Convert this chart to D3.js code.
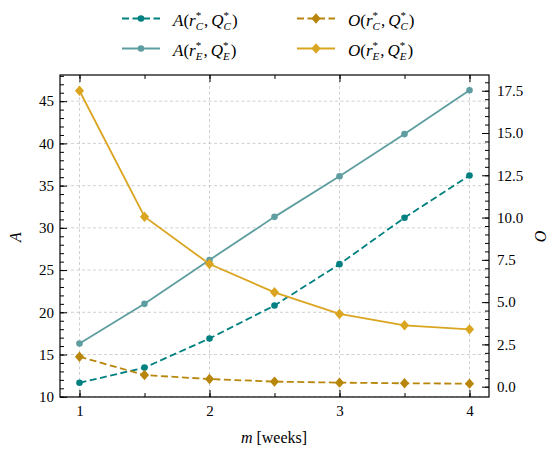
<!DOCTYPE html>
<html><head><meta charset="utf-8">
<script src="https://cdn.jsdelivr.net/npm/d3@7"></script>
<style>
body{margin:0;background:#fff;}
svg text{font-family:"Liberation Serif","Times New Roman",Tinos,"DejaVu Serif","Noto Serif",serif !important;}
</style></head><body>
<svg id="c" width="550" height="450"></svg>
<script>
const weeks = [1, 1.5, 2, 2.5, 3, 3.5, 4];
const A_C = [11.65, 13.45, 16.9, 20.8, 25.7, 31.2, 36.2];
const A_E = [16.3, 21.0, 26.2, 31.3, 36.1, 41.1, 46.3];
const O_C = [1.77, 0.69, 0.45, 0.30, 0.24, 0.20, 0.18];
const O_E = [17.5, 10.05, 7.25, 5.58, 4.3, 3.63, 3.39];
const xTicks = [1, 2, 3, 4];
const yLeftTicks = [10, 15, 20, 25, 30, 35, 40, 45];
const yRightTicks = [0, 2.5, 5, 7.5, 10, 12.5, 15, 17.5];

const FONT = '"Liberation Serif","Times New Roman",Tinos,"DejaVu Serif",serif';
const svg = d3.select("#c").attr("font-family", FONT);
const L = 60, R = 489, T = 75, B = 397;
const x = d3.scaleLinear().domain([0.85, 4.15]).range([L, R]);
const yL = d3.scaleLinear().domain([9.97, 48.1]).range([B, T]);
const yR = d3.scaleLinear().domain([-0.61, 18.43]).range([B, T]);

// grid
const grid = svg.append("g").attr("stroke", "#c4c4c4").attr("stroke-width", 0.8).attr("stroke-dasharray", "3,2.5");
xTicks.forEach(t => grid.append("line").attr("x1", x(t)).attr("x2", x(t)).attr("y1", T).attr("y2", B));
yLeftTicks.forEach(t => grid.append("line").attr("x1", L).attr("x2", R).attr("y1", yL(t)).attr("y2", yL(t)));

function styleAxis(g){
  g.attr("font-family", FONT);
  g.select(".domain").remove();
  g.selectAll("line").attr("stroke", "#000").attr("stroke-width", 1);
  g.selectAll("text").attr("font-size", 15).attr("fill", "#000").attr("font-family", FONT);
}
const xMinor = d3.range(1, 4.01, 0.5);
const lMinor = d3.range(10, 48.01, 1);
const rMinor = d3.range(0, 18.01, 0.5);

// bottom
svg.append("g").attr("transform", `translate(0,${B})`)
  .call(d3.axisBottom(x).tickValues(xTicks).tickSize(-7).tickPadding(8).tickFormat(d3.format("d"))).call(styleAxis);
svg.append("g").attr("transform", `translate(0,${B})`)
  .call(d3.axisBottom(x).tickValues(xMinor).tickSize(-4).tickFormat("")).call(styleAxis);
// top
svg.append("g").attr("transform", `translate(0,${T})`)
  .call(d3.axisTop(x).tickValues(xTicks).tickSize(-7).tickFormat("")).call(styleAxis);
svg.append("g").attr("transform", `translate(0,${T})`)
  .call(d3.axisTop(x).tickValues(xMinor).tickSize(-4).tickFormat("")).call(styleAxis);
// left
svg.append("g").attr("transform", `translate(${L},0)`)
  .call(d3.axisLeft(yL).tickValues(yLeftTicks).tickSize(-7).tickPadding(6).tickFormat(d3.format("d"))).call(styleAxis);
svg.append("g").attr("transform", `translate(${L},0)`)
  .call(d3.axisLeft(yL).tickValues(lMinor).tickSize(-4).tickFormat("")).call(styleAxis);
// right
svg.append("g").attr("transform", `translate(${R},0)`)
  .call(d3.axisRight(yR).tickValues(yRightTicks).tickSize(-7).tickPadding(8).tickFormat(d3.format(".1f"))).call(styleAxis);
svg.append("g").attr("transform", `translate(${R},0)`)
  .call(d3.axisRight(yR).tickValues(rMinor).tickSize(-4).tickFormat("")).call(styleAxis);

// series
const series = [
  {vals: A_C, y: yL, color: "#008080", dash: "7,3.5", marker: "circle"},
  {vals: A_E, y: yL, color: "#5F9EA0", dash: null, marker: "circle"},
  {vals: O_C, y: yR, color: "#B8860B", dash: "7,3.5", marker: "diamond"},
  {vals: O_E, y: yR, color: "#DAA520", dash: null, marker: "diamond"}
];
function drawMarker(g, type, color, cx, cy){
  if(type === "circle") g.append("circle").attr("cx", cx).attr("cy", cy).attr("r", 3.3).attr("fill", color);
  else g.append("path").attr("d", `M${cx},${cy-5.2}L${cx+4.6},${cy}L${cx},${cy+5.2}L${cx-4.6},${cy}Z`).attr("fill", color);
}
series.forEach(s => {
  const line = d3.line().x((d, i) => x(weeks[i])).y(d => s.y(d));
  svg.append("path").datum(s.vals).attr("d", line).attr("fill", "none")
    .attr("stroke", s.color).attr("stroke-width", 1.8).attr("stroke-dasharray", s.dash);
  const g = svg.append("g");
  s.vals.forEach((v, i) => drawMarker(g, s.marker, s.color, x(weeks[i]), s.y(v)));
});

// frame
svg.append("rect").attr("x", L).attr("y", T).attr("width", R - L).attr("height", B - T)
  .attr("fill", "none").attr("stroke", "#000").attr("stroke-width", 1.2);

// axis labels
svg.append("text").attr("transform", "translate(21,237) rotate(-90)").attr("text-anchor", "middle")
  .attr("font-size", 16).attr("font-style", "italic").text("A");
svg.append("text").attr("transform", "translate(535,236) rotate(90)").attr("text-anchor", "middle")
  .attr("font-size", 16).attr("font-style", "italic").text("O");
const xl = svg.append("text").attr("x", 274).attr("y", 443).attr("text-anchor", "middle").attr("font-size", 16);
xl.append("tspan").attr("font-style", "italic").text("m");
xl.append("tspan").text(" [weeks]");

// legend
const legendItems = [
  {s: 0, name: "A", sub: "C", col: 0, row: 0},
  {s: 1, name: "A", sub: "E", col: 0, row: 1},
  {s: 2, name: "O", sub: "C", col: 1, row: 0},
  {s: 3, name: "O", sub: "E", col: 1, row: 1}
];
const colX = [122, 297], rowY = [18.5, 48.5];
legendItems.forEach(it => {
  const s = series[it.s];
  const lx = colX[it.col], ly = rowY[it.row];
  svg.append("line").attr("x1", lx).attr("x2", lx + 38).attr("y1", ly).attr("y2", ly)
    .attr("stroke", s.color).attr("stroke-width", 1.8).attr("stroke-dasharray", s.dash);
  drawMarker(svg, s.marker, s.color, lx + 19, ly);
  const t = svg.append("text").attr("x", lx + 51).attr("y", ly + 7).attr("font-size", 17);
  t.append("tspan").attr("font-style", "italic").text(it.name);
  t.append("tspan").text("(");
  t.append("tspan").attr("font-style", "italic").text("r");
  t.append("tspan").attr("font-size", 11).attr("dy", -7).text("*");
  t.append("tspan").attr("font-size", 11).attr("font-style", "italic").attr("dx", -5.5).attr("dy", 11).text(it.sub);
  t.append("tspan").attr("dy", -4).attr("dx", 1).text(",");
  t.append("tspan").attr("font-style", "italic").attr("dx", 3).text("Q");
  t.append("tspan").attr("font-size", 11).attr("dy", -7).text("*");
  t.append("tspan").attr("font-size", 11).attr("font-style", "italic").attr("dx", -5.5).attr("dy", 11).text(it.sub);
  t.append("tspan").attr("dy", -4).attr("dx", 1).text(")");
});
</script>
</body></html>
